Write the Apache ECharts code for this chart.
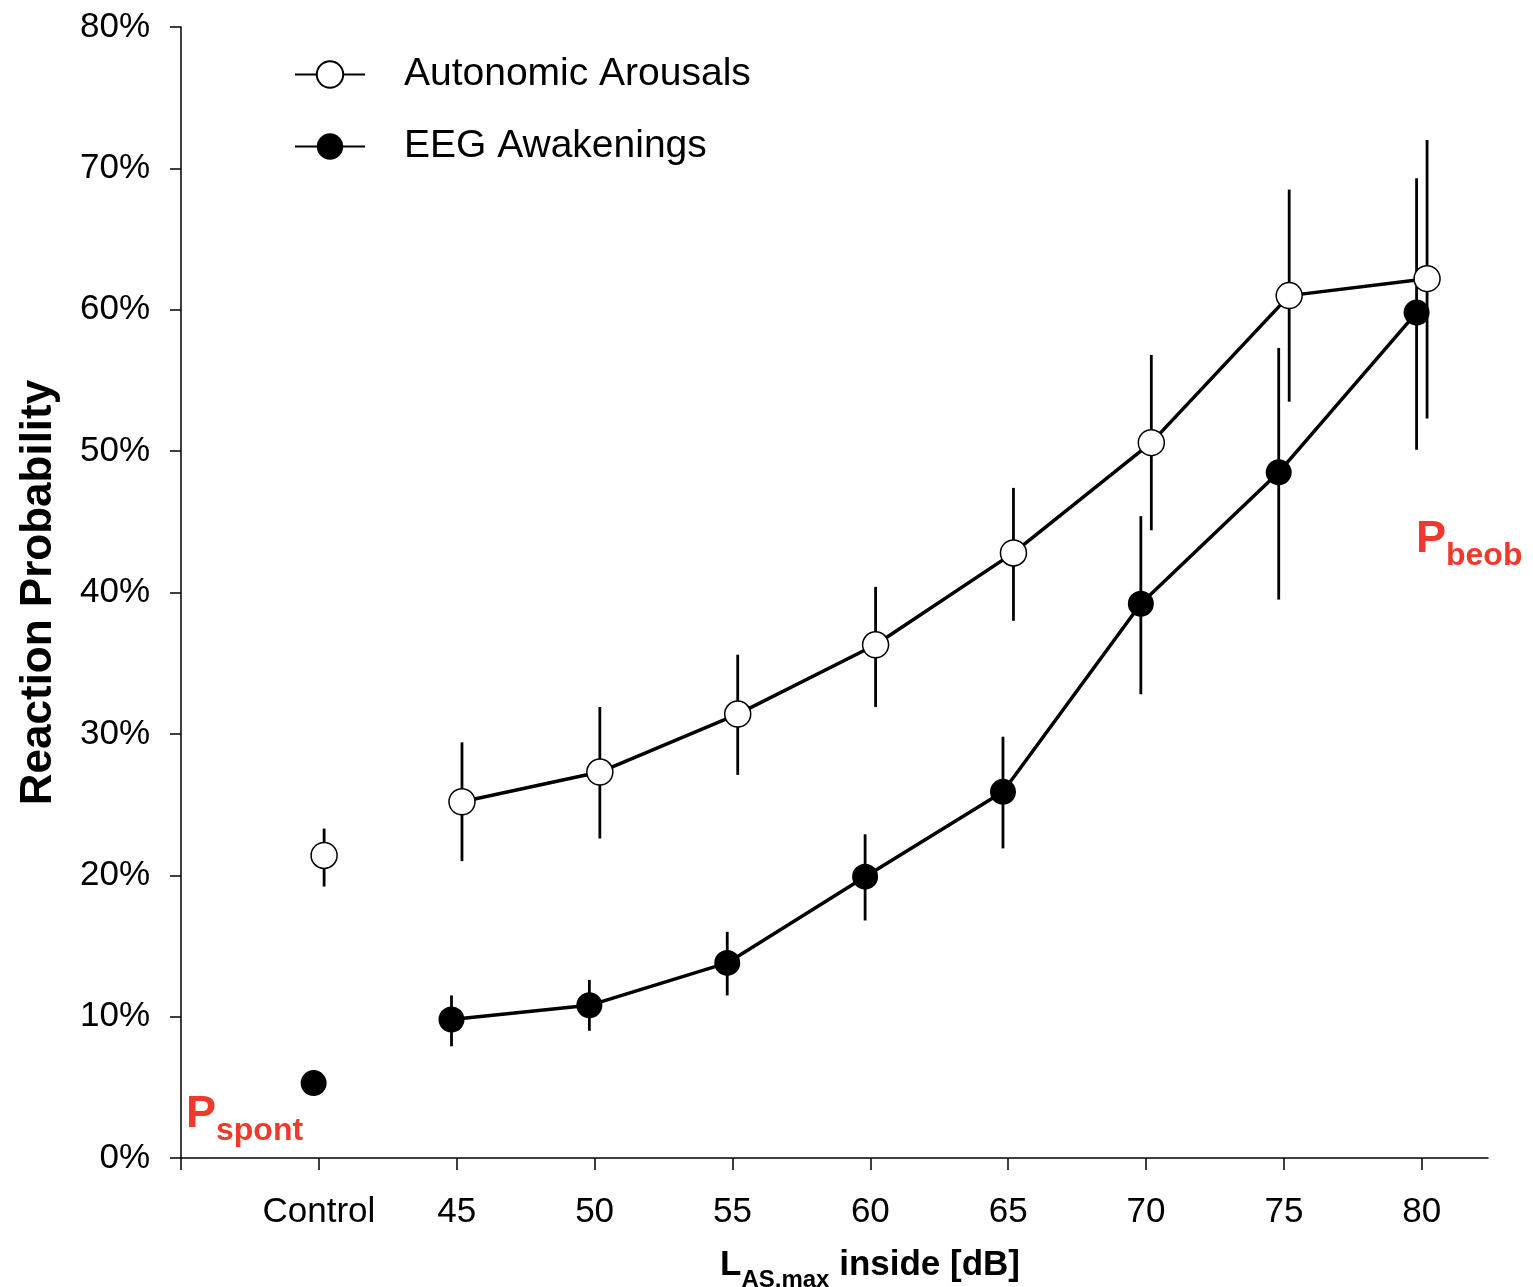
<!DOCTYPE html>
<html>
<head>
<meta charset="utf-8"/>
<style>
    html, body { margin:0; padding:0; width:100%; height:100%; background:#fff; }
    #chart { width:1533px; height:1287px; }
</style>
</head>
<body>
<div id="chart"></div>
<script src="https://cdn.jsdelivr.net/npm/echarts@6/dist/echarts.min.js"></script>
<script type="text/javascript">

// x position in dB, 40 is used for the Control group
var levels = [40, 45, 50, 55, 60, 65, 70, 75, 80];
var levelLabels = ['Control', '45', '50', '55', '60', '65', '70', '75', '80'];
var yTicks = [0, 10, 20, 30, 40, 50, 60, 70, 80];

// Autonomic Arousals (open circles), percent
var arousalMean = [21.4, 25.2, 27.3, 31.4, 36.3, 42.8, 50.6, 61.0, 62.2];
var arousalLow  = [19.2, 21.0, 22.6, 27.1, 31.9, 38.0, 44.4, 53.5, 52.3];
var arousalHigh = [23.3, 29.4, 31.9, 35.6, 40.4, 47.4, 56.8, 68.5, 72.0];

// EEG Awakenings (filled circles), percent
var eegMean = [5.3, 9.8, 10.8, 13.8, 19.9, 25.9, 39.2, 48.5, 59.8];
var eegLow  = [null, 7.9, 9.0, 11.5, 16.8, 21.9, 32.8, 39.5, 50.1];
var eegHigh = [null, 11.5, 12.6, 16.0, 22.9, 29.8, 45.4, 57.3, 69.3];

var FONT = 'Liberation Sans, Arial, sans-serif';
var RED = '#ee3a2c';

// both groups are drawn a little apart from the tick
var shiftOpen = 0.19;
var shiftFilled = -0.19;

function points(means, shift, from, to) {
    var out = [];
    for (var i = from; i < to; i++) out.push([levels[i] + shift, means[i]]);
    return out;
}

function bars(low, high, shift) {
    var out = [];
    for (var i = 0; i < levels.length; i++) {
        if (low[i] == null) continue;
        out.push([levels[i] + shift, low[i], high[i]]);
    }
    return out;
}

function renderBar(params, api) {
    var x = api.value(0);
    var a = api.coord([x, api.value(1)]);
    var b = api.coord([x, api.value(2)]);
    return {
        type: 'line',
        shape: { x1: a[0], y1: a[1], x2: b[0], y2: b[1] },
        style: { stroke: '#000', lineWidth: 2.8 }
    };
}

var openStyle = { color: '#fff', borderColor: '#000', borderWidth: 1.5, opacity: 1 };
var filledStyle = { color: '#000', borderColor: '#000', borderWidth: 0, opacity: 1 };

var myChart = echarts.init(document.getElementById('chart'));

var option = {
    animation: false,
    backgroundColor: '#fff',
    grid: { left: 181, right: 45, top: 27, bottom: 129 },
    legend: {
        data: ['Autonomic Arousals', 'EEG Awakenings'],
        orient: 'vertical',
        left: 289,
        top: 50,
        itemWidth: 70,
        itemHeight: 33,
        itemGap: 33,
        lineStyle: { width: 2 },
        textStyle: { fontFamily: FONT, fontSize: 39, color: '#000', padding: [0, 0, 0, 34] }
    },
    xAxis: {
        type: 'value',
        min: 35,
        max: 82.4,
        interval: 5,
        splitLine: { show: false },
        axisLine: { lineStyle: { color: '#000', width: 1.5 } },
        axisTick: {
            length: 12,
            lineStyle: { color: '#000', width: 1.5 },
            customValues: [35].concat(levels)
        },
        axisLabel: {
            customValues: levels,
            margin: 37,
            fontFamily: FONT,
            fontSize: 35,
            color: '#000',
            formatter: function (v) {
                var i = levels.indexOf(v);
                return i < 0 ? '' : levelLabels[i];
            }
        }
    },
    yAxis: {
        type: 'value',
        min: 0,
        max: 80,
        interval: 10,
        name: 'Reaction Probability',
        nameLocation: 'middle',
        nameRotate: 90,
        nameGap: 120,
        nameTextStyle: { fontFamily: FONT, fontSize: 44, fontWeight: 'bold', color: '#000', padding: [0, 0, 0, 0] },
        splitLine: { show: false },
        axisLine: { show: true, lineStyle: { color: '#000', width: 1.5 } },
        axisTick: { length: 11, lineStyle: { color: '#000', width: 1.5 } },
        axisLabel: {
            margin: 31,
            fontFamily: FONT,
            fontSize: 35,
            color: '#000',
            formatter: function (v) { return yTicks.indexOf(v) < 0 ? '' : v + '%'; }
        }
    },
    graphic: [
        {
            type: 'text',
            x: 870, y: 1270,
            style: {
                text: '{m|L}{s|AS,max}{m| inside [dB]}',
                align: 'center',
                verticalAlign: 'middle',
                rich: {
                    m: { fontFamily: FONT, fontSize: 35, fontWeight: 'bold', fill: '#000', verticalAlign: 'bottom', padding: [0, 0, 9, 0] },
                    s: { fontFamily: FONT, fontSize: 24, fontWeight: 'bold', fill: '#000', verticalAlign: 'bottom' }
                }
            }
        },
        {
            type: 'text',
            x: 186, y: 1120,
            style: {
                text: '{p|P}{s|spont}',
                align: 'left',
                verticalAlign: 'middle',
                rich: {
                    p: { fontFamily: FONT, fontSize: 45, fontWeight: 'bold', fill: RED, verticalAlign: 'bottom', padding: [0, 0, 10, 0] },
                    s: { fontFamily: FONT, fontSize: 32, fontWeight: 'bold', fill: RED, verticalAlign: 'bottom' }
                }
            }
        },
        {
            type: 'text',
            x: 1416, y: 545,
            style: {
                text: '{p|P}{s|beob}',
                align: 'left',
                verticalAlign: 'middle',
                rich: {
                    p: { fontFamily: FONT, fontSize: 45, fontWeight: 'bold', fill: RED, verticalAlign: 'bottom', padding: [0, 0, 10, 0] },
                    s: { fontFamily: FONT, fontSize: 32, fontWeight: 'bold', fill: RED, verticalAlign: 'bottom' }
                }
            }
        }
    ],
    series: [
        {
            name: 'Autonomic Bars',
            type: 'custom',
            renderItem: renderBar,
            encode: { x: 0, y: [1, 2] },
            data: bars(arousalLow, arousalHigh, shiftOpen),
            z: 1
        },
        {
            name: 'EEG Bars',
            type: 'custom',
            renderItem: renderBar,
            encode: { x: 0, y: [1, 2] },
            data: bars(eegLow, eegHigh, shiftFilled),
            z: 1
        },
        {
            name: 'Autonomic Arousals',
            type: 'line',
            data: points(arousalMean, shiftOpen, 1, levels.length),
            symbol: 'circle',
            symbolSize: 26,
            showAllSymbol: true,
            lineStyle: { color: '#000', width: 3.5 },
            itemStyle: openStyle,
            z: 3
        },
        {
            name: 'EEG Awakenings',
            type: 'line',
            data: points(eegMean, shiftFilled, 1, levels.length),
            symbol: 'circle',
            symbolSize: 26,
            showAllSymbol: true,
            lineStyle: { color: '#000', width: 3.5 },
            itemStyle: filledStyle,
            z: 3
        },
        {
            name: 'Autonomic Control',
            type: 'scatter',
            data: points(arousalMean, shiftOpen, 0, 1),
            symbol: 'circle',
            symbolSize: 26,
            itemStyle: openStyle,
            z: 3
        },
        {
            name: 'EEG Control',
            type: 'scatter',
            data: points(eegMean, shiftFilled, 0, 1),
            symbol: 'circle',
            symbolSize: 26,
            itemStyle: filledStyle,
            z: 3
        }
    ]
};

myChart.setOption(option);

</script>
</body>
</html>
